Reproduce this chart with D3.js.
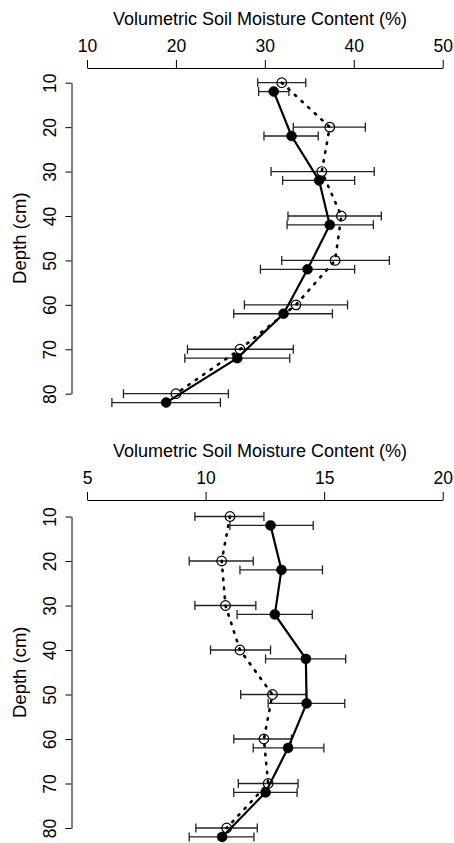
<!DOCTYPE html>
<html lang="en">
<head>
    <meta charset="UTF-8">
    <title>Soil Moisture Profiles</title>
    <script src="https://d3js.org/d3.v7.min.js"></script>
    <style>
        body {
            margin: 0;
            padding: 0;
            background-color: white;
        }
        svg {
            display: block;
            font-family: 'Liberation Sans', Arial, Helvetica, sans-serif;
        }
        .axis text {
            font-size: 17.5px;
            fill: black;
        }
        .axis path, .axis line {
            stroke: black;
            stroke-width: 1;
        }
    </style>
</head>
<body>
    <svg width="454" height="843"></svg>

    <script>
        // depths (cm) for both panels
        const depths = [10, 20, 30, 40, 50, 60, 70, 80];
        const depthTicks = [10, 20, 30, 40, 50, 60, 70, 80];

        // top panel: open circles (dotted line)
        const topOpenMean = [31.9, 37.3, 36.4, 38.6, 37.9, 33.5, 27.2, 20.0];
        const topOpenLow  = [29.2, 33.2, 30.7, 32.6, 31.9, 27.7, 21.3, 14.1];
        const topOpenHigh = [34.6, 41.3, 42.3, 43.1, 44.0, 39.3, 33.2, 25.9];
        // top panel: filled circles (solid line)
        const topFillMean = [31.0, 33.0, 36.1, 37.3, 34.8, 32.1, 26.9, 18.9];
        const topFillLow  = [29.3, 29.9, 32.0, 32.5, 29.5, 26.5, 21.0, 12.8];
        const topFillHigh = [32.7, 36.0, 40.1, 42.2, 40.1, 37.6, 32.8, 25.0];
        const topXTicks = [10, 20, 30, 40, 50];

        // bottom panel: open circles (dotted line)
        const botOpenMean = [11.03, 10.68, 10.84, 11.45, 12.82, 12.46, 12.64, 10.89];
        const botOpenLow  = [9.55, 9.31, 9.55, 10.21, 11.48, 11.19, 11.38, 9.59];
        const botOpenHigh = [12.46, 12.01, 12.12, 12.74, 14.26, 13.62, 13.90, 12.18];
        // bottom panel: filled circles (solid line)
        const botFillMean = [12.74, 13.20, 12.92, 14.23, 14.26, 13.48, 12.53, 10.70];
        const botFillLow  = [11.03, 11.45, 11.33, 12.53, 12.64, 12.01, 11.19, 9.31];
        const botFillHigh = [14.54, 14.93, 14.50, 15.91, 15.87, 14.99, 13.86, 12.04];
        const botXTicks = [5, 10, 15, 20];

        const xLabel = "Volumetric Soil Moisture Content (%)";
        const yLabel = "Depth (cm)";

        const svg = d3.select("svg");
        const fillOffset = 2; // filled series drawn slightly below its depth

        function drawPanel(cfg) {
            const g = svg.append("g");
            const x = d3.scaleLinear().domain(cfg.xDomain).range([87, 442.7]);
            const y = d3.scaleLinear().domain([10, 80]).range(cfg.yRange);

            // top x axis
            const xAxis = g.append("g")
                .attr("class", "axis")
                .attr("transform", `translate(0,${cfg.axisY})`)
                .call(d3.axisTop(x).tickValues(cfg.xTicks).tickSize(8).tickSizeOuter(0).tickPadding(8));
            xAxis.selectAll("text").attr("dy", "0");

            g.append("text")
                .attr("x", 260)
                .attr("y", cfg.axisY - 43)
                .attr("text-anchor", "middle")
                .attr("font-size", 18)
                .text(xLabel);

            // left y axis with rotated labels
            const yAxis = g.append("g")
                .attr("class", "axis")
                .attr("transform", "translate(71.5,0)")
                .call(d3.axisLeft(y).tickValues(depthTicks).tickSize(6).tickSizeOuter(0));
            yAxis.selectAll(".tick text")
                .attr("x", 0)
                .attr("dy", "0")
                .attr("text-anchor", "middle")
                .attr("transform", "translate(-16,0) rotate(-90)");

            g.append("text")
                .attr("transform", `translate(26,${(cfg.yRange[0] + cfg.yRange[1]) / 2}) rotate(-90)`)
                .attr("text-anchor", "middle")
                .attr("font-size", 18.5)
                .text(yLabel);

            const series = [
                {mean: cfg.openMean, lo: cfg.openLow, hi: cfg.openHigh, off: 0, filled: false},
                {mean: cfg.fillMean, lo: cfg.fillLow, hi: cfg.fillHigh, off: fillOffset, filled: true}
            ];

            series.forEach(s => {
                const data = depths.map((d, i) => ({depth: d + s.off, mean: s.mean[i], lo: s.lo[i], hi: s.hi[i]}));

                const bars = g.append("g")
                    .attr("stroke", "#222")
                    .attr("stroke-width", 1.3);
                bars.selectAll(".bar")
                    .data(data).enter().append("line")
                    .attr("x1", d => x(d.lo)).attr("x2", d => x(d.hi))
                    .attr("y1", d => y(d.depth)).attr("y2", d => y(d.depth));
                bars.selectAll(".capl")
                    .data(data).enter().append("line")
                    .attr("x1", d => x(d.lo)).attr("x2", d => x(d.lo))
                    .attr("y1", d => y(d.depth) - 4.5).attr("y2", d => y(d.depth) + 4.5);
                bars.selectAll(".caph")
                    .data(data).enter().append("line")
                    .attr("x1", d => x(d.hi)).attr("x2", d => x(d.hi))
                    .attr("y1", d => y(d.depth) - 4.5).attr("y2", d => y(d.depth) + 4.5);

                const line = d3.line()
                    .x(d => x(d.mean))
                    .y(d => y(d.depth));

                g.append("path")
                    .datum(data)
                    .attr("d", line)
                    .attr("fill", "none")
                    .attr("stroke", "black")
                    .attr("stroke-width", s.filled ? 2.2 : 2.6)
                    .attr("stroke-linecap", "round")
                    .attr("stroke-dasharray", s.filled ? null : "1.5,7.5");

                g.selectAll(null)
                    .data(data).enter().append("circle")
                    .attr("cx", d => x(d.mean))
                    .attr("cy", d => y(d.depth))
                    .attr("r", s.filled ? 5 : 4.8)
                    .attr("fill", s.filled ? "black" : "none")
                    .attr("stroke", "black")
                    .attr("stroke-width", s.filled ? 0.5 : 1.2);
            });
        }

        drawPanel({
            xDomain: [10, 50], xTicks: topXTicks, axisY: 68, yRange: [82.7, 393.7],
            openMean: topOpenMean, openLow: topOpenLow, openHigh: topOpenHigh,
            fillMean: topFillMean, fillLow: topFillLow, fillHigh: topFillHigh
        });

        drawPanel({
            xDomain: [5, 20], xTicks: botXTicks, axisY: 500, yRange: [516.5, 828],
            openMean: botOpenMean, openLow: botOpenLow, openHigh: botOpenHigh,
            fillMean: botFillMean, fillLow: botFillLow, fillHigh: botFillHigh
        });
    </script>
</body>
</html>
